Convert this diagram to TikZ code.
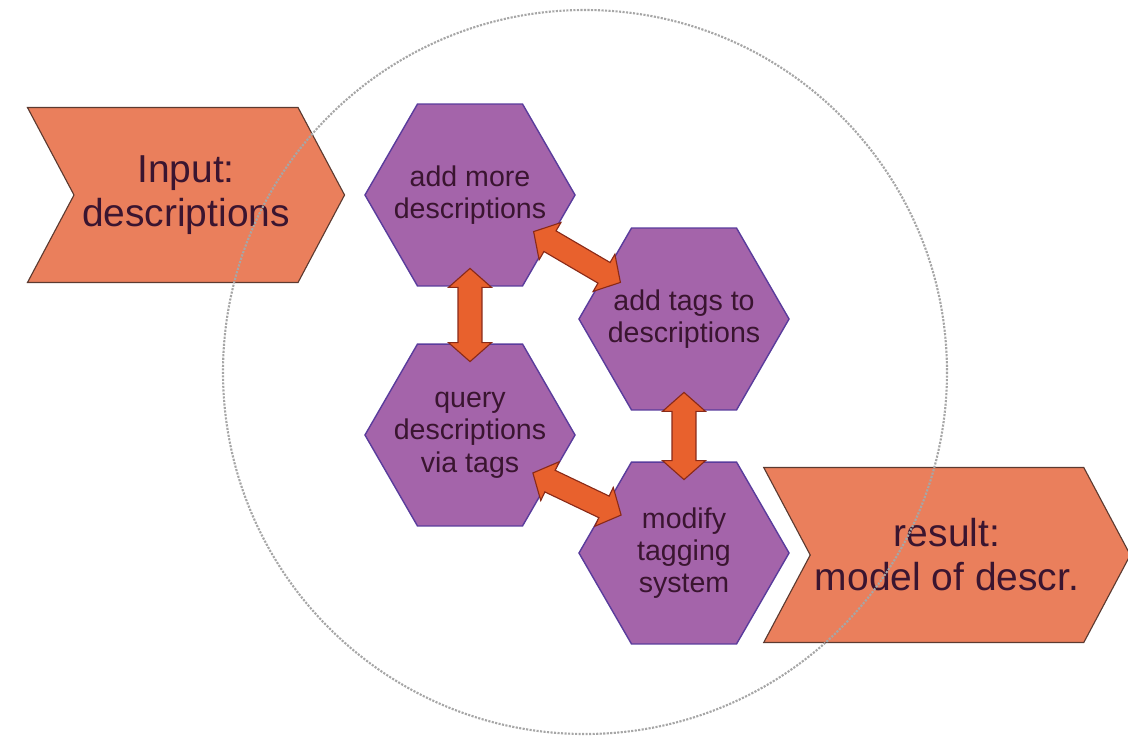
\documentclass[tikz,border=0pt]{standalone}
\usepackage{fontspec}
\setmainfont{Liberation Sans}
\usetikzlibrary{shapes.geometric,shapes.symbols,calc}

\definecolor{chevfill}{HTML}{EA7F5C}
\definecolor{chevline}{HTML}{5C3A30}
\definecolor{hexfill}{HTML}{A464AA}
\definecolor{hexline}{HTML}{5A3C9C}
\definecolor{linkfill}{HTML}{E8612D}
\definecolor{linkline}{HTML}{8A2A18}
\definecolor{inktext}{HTML}{3A1530}

\begin{document}
\begin{tikzpicture}[x=0.025cm,y=-0.025cm,
				chevron/.style={signal,signal from=west,signal to=east,
					signal pointer angle=124,draw=chevline,fill=chevfill,
					line width=0.8pt,minimum height=4.375cm,text=inktext,
					align=center,font=\fontsize{27.7}{31.3}\selectfont},
				hexa/.style={regular polygon,regular polygon sides=6,
					minimum size=5.25cm,inner sep=-12pt,
					draw=hexline,fill=hexfill,line width=1pt,text=inktext,
					align=center,font=\fontsize{20.3}{23}\selectfont},
				link/.style={draw=linkline,fill=linkfill,line width=0.8pt,line join=miter},
				ring/.style={draw=gray!70,densely dotted,line width=1.5pt}]
\useasboundingbox (0,0) rectangle (1128,736);
% in and out
\node[chevron,minimum width=7.925cm] (input) at (186,195) {Input:\\descriptions};
\node[chevron,minimum width=8.525cm] (result) at (947,555) {result:\\model of descr.};
\draw[ring] (585,372) circle[radius=362];
% the cycle
\node[hexa] (more) at (470,195) {add more\\descriptions};
\node[hexa] (tags) at (684,319) {add tags to\\descriptions};
\node[hexa] (query) at (470,435) {query\\descriptions\\via tags};
\node[hexa] (modify) at (684,553) {modify\\tagging\\system};
% two-way arrows, tips reach 13pt into the hexagons
\foreach \a/\b in {more.-90/query.90,more.-30/tags.150,
		tags.-90/modify.90,query.-30/modify.150}
	\draw[link] let \p1=($(\a)!-13pt!(\b)$), \p2=($(\b)!-13pt!(\a)$),
		\p3=($(\p1)!13.5pt!(\p2)$), \p4=($(\p2)!13.5pt!(\p1)$) in
		(\p1) -- ($(\p3)!15.3pt!90:(\p2)$) -- ($(\p3)!8.5pt!90:(\p2)$)
		-- ($(\p4)!8.5pt!-90:(\p1)$) -- ($(\p4)!15.3pt!-90:(\p1)$)
		-- (\p2) -- ($(\p4)!15.3pt!90:(\p1)$) -- ($(\p4)!8.5pt!90:(\p1)$)
		-- ($(\p3)!8.5pt!-90:(\p2)$) -- ($(\p3)!15.3pt!-90:(\p2)$) -- cycle;
\end{tikzpicture}
\end{document}
